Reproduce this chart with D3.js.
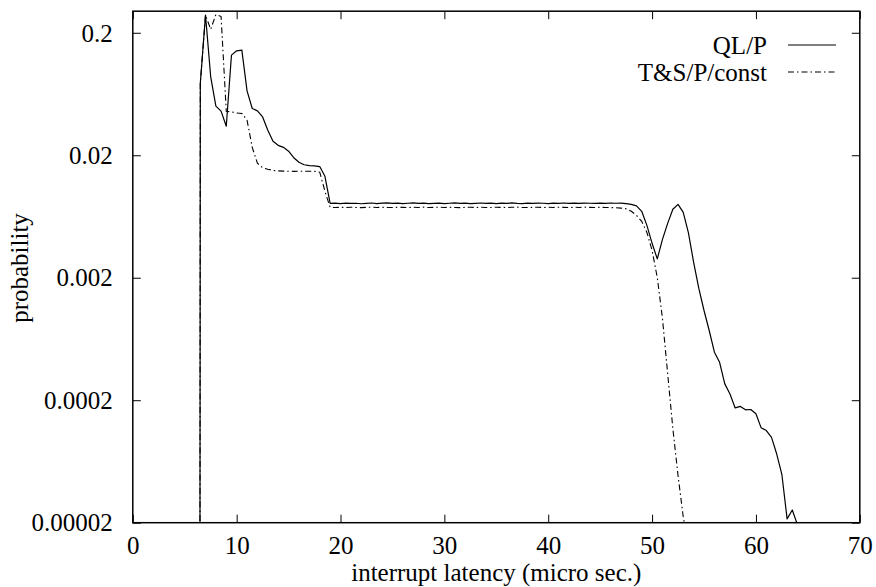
<!DOCTYPE html>
<html>
<head>
<meta charset="utf-8">
<script src="https://cdn.jsdelivr.net/npm/d3@7"></script>
<style>
  html, body { margin: 0; padding: 0; background: #fff; }
  text { font-family: "Liberation Serif", "Times New Roman", serif; fill: #000; }
</style>
</head>
<body>
<svg id="chart" width="876" height="587"></svg>
<script>
// ---- data ----
const seriesNames = ["QL/P", "T&S/P/const"];
const xTicks = [0, 10, 20, 30, 40, 50, 60, 70];
const xTickLabels = ["0", "10", "20", "30", "40", "50", "60", "70"];
const yTicks = [0.2, 0.02, 0.002, 0.0002, 0.00002];
const yTickLabels = ["0.2", "0.02", "0.002", "0.0002", "0.00002"];

// interrupt latency (micro sec.)
const latency = [
  6.45, 6.5, 7, 7.5, 8, 8.5, 9, 9.5, 10, 10.5, 11, 11.5, 12, 12.5, 13, 13.5, 14, 14.5, 15, 15.5,
  16, 16.5, 17, 17.5, 18, 18.5, 19, 19.5, 20, 20.5, 21, 21.5, 22, 22.5, 23, 23.5, 24, 24.5, 25, 25.5,
  26, 26.5, 27, 27.5, 28, 28.5, 29, 29.5, 30, 30.5, 31, 31.5, 32, 32.5, 33, 33.5, 34, 34.5, 35, 35.5,
  36, 36.5, 37, 37.5, 38, 38.5, 39, 39.5, 40, 40.5, 41, 41.5, 42, 42.5, 43, 43.5, 44, 44.5, 45, 45.5,
  46, 46.5, 47, 47.5, 48, 48.5, 49, 49.5, 50, 50.5, 51, 51.5, 52, 52.5, 53, 53.5, 54, 54.5, 55, 55.5,
  56, 56.5, 57, 57.5, 58, 58.5, 59, 59.5, 60, 60.5, 61, 61.5, 62, 62.5, 63, 63.5, 64, 64.5
];

// QL/P probability (aligned with latency)
const qlpProb = [
  1e-7,
  0.0772, 0.279, 0.0874, 0.0503, 0.0458, 0.0345, 0.1314, 0.1425, 0.1444, 0.0671,
  0.0482, 0.0461, 0.0411, 0.0320, 0.0260, 0.0241, 0.0232, 0.0216, 0.0191, 0.01753,
  0.01672, 0.01647, 0.01635, 0.01617, 0.01347, 0.00810,
  0.00812, 0.00806, 0.00814, 0.00808, 0.00811, 0.00804, 0.00809, 0.00815, 0.00807, 0.00812,
  0.00817, 0.00809, 0.00813, 0.00806, 0.00811, 0.00816, 0.00808, 0.00812, 0.00805, 0.00810,
  0.00814, 0.00807, 0.00811, 0.00816, 0.00809, 0.00813, 0.00806, 0.00810, 0.00815, 0.00808,
  0.00812, 0.00807, 0.00813, 0.00809, 0.00816, 0.00810, 0.00806, 0.00812, 0.00808, 0.00814,
  0.00811, 0.00807, 0.00813, 0.00809, 0.00815, 0.00810, 0.00812, 0.00808, 0.00814, 0.00811,
  0.00809, 0.00813, 0.00810, 0.00815, 0.00811, 0.00812, 0.00806,
  0.00795, 0.00773, 0.00697, 0.00535, 0.00382, 0.00285, 0.00411, 0.00556, 0.00724, 0.00795,
  0.00684, 0.00465, 0.00267, 0.001635, 0.00108, 0.000742, 0.000493, 0.000408, 0.000272, 0.000225,
  0.000173, 0.000178, 0.000167, 0.000168, 0.000155, 0.000119, 0.000113, 0.0000995, 0.0000727, 0.0000493,
  0.0000215, 0.0000254, 0.0000192, 1e-7
];

// T&S/P/const probability (aligned with the first entries of latency)
const tspProb = [
  1e-7,
  0.0772, 0.279, 0.2132, 0.2817, 0.2714, 0.0458, 0.0452, 0.0443, 0.0439, 0.0387,
  0.0232, 0.0172, 0.0158, 0.01537, 0.01505, 0.01490, 0.01484, 0.01480, 0.01478, 0.01481,
  0.01479, 0.01482, 0.01478, 0.01455, 0.01015, 0.00751,
  0.00748, 0.00752, 0.00749, 0.00753, 0.00750, 0.00747, 0.00751, 0.00754, 0.00749, 0.00752,
  0.00750, 0.00748, 0.00753, 0.00751, 0.00749, 0.00752, 0.00750, 0.00754, 0.00748, 0.00751,
  0.00753, 0.00749, 0.00752, 0.00750, 0.00747, 0.00751, 0.00753, 0.00749, 0.00752, 0.00750,
  0.00748, 0.00753, 0.00751, 0.00749, 0.00752, 0.00754, 0.00750, 0.00748, 0.00751, 0.00753,
  0.00749, 0.00752, 0.00750, 0.00753, 0.00751, 0.00748, 0.00752, 0.00750, 0.00754, 0.00751,
  0.00749, 0.00752, 0.00750, 0.00748, 0.00745, 0.00740, 0.00732,
  0.00697, 0.00646, 0.00577, 0.00469, 0.00334, 0.00201, 0.000929, 0.000330, 0.0001172, 0.0000484,
  0.0000223, 0.0000129
];

// ---- layout ----
const plot = { left: 132.8, right: 859.8, top: 11.2, bottom: 522.7 };
const FONT = 25;

const svg = d3.select("#chart");
const x = d3.scaleLinear().domain([0, 70]).range([plot.left, plot.right]);
const y = d3.scaleLog().domain([0.00002, 0.3]).range([plot.bottom, plot.top]);

svg.append("defs").append("clipPath").attr("id", "clip")
  .append("rect")
  .attr("x", plot.left).attr("y", plot.top)
  .attr("width", plot.right - plot.left).attr("height", plot.bottom - plot.top);

const tickLen = 8;
// bottom axis
const bottomAxis = d3.axisBottom(x).tickValues(xTicks)
  .tickFormat((d, i) => xTickLabels[i]).tickSizeInner(-tickLen).tickSizeOuter(0).tickPadding(14);
const gb = svg.append("g").attr("transform", `translate(0,${plot.bottom})`).call(bottomAxis);
gb.select(".domain").remove();
gb.selectAll("line").attr("stroke", "#000").attr("stroke-width", 1);
gb.selectAll("text").attr("font-size", FONT).attr("font-family", "Liberation Serif").attr("dy", "0.71em");

const topAxis = d3.axisTop(x).tickValues(xTicks).tickFormat("").tickSizeInner(-tickLen).tickSizeOuter(0);
const gt = svg.append("g").attr("transform", `translate(0,${plot.top})`).call(topAxis);
gt.select(".domain").remove();
gt.selectAll("line").attr("stroke", "#000").attr("stroke-width", 1);

const leftAxis = d3.axisLeft(y).tickValues(yTicks)
  .tickFormat((d, i) => yTickLabels[i]).tickSizeInner(-tickLen).tickSizeOuter(0).tickPadding(20);
const gl = svg.append("g").attr("transform", `translate(${plot.left},0)`).call(leftAxis);
gl.select(".domain").remove();
gl.selectAll("line").attr("stroke", "#000").attr("stroke-width", 1);
gl.selectAll("text").attr("font-size", FONT).attr("font-family", "Liberation Serif").attr("dy", "0.33em");

const rightAxis = d3.axisRight(y).tickValues(yTicks).tickFormat("").tickSizeInner(-tickLen).tickSizeOuter(0);
const gr = svg.append("g").attr("transform", `translate(${plot.right},0)`).call(rightAxis);
gr.select(".domain").remove();
gr.selectAll("line").attr("stroke", "#000").attr("stroke-width", 1);

// lines
const line = d3.line()
  .x(d => x(d[0]))
  .y(d => y(d[1]));

const qlpData = latency.slice(0, qlpProb.length).map((lx, i) => [lx, qlpProb[i]]);
const tspData = latency.slice(0, tspProb.length).map((lx, i) => [lx, tspProb[i]]);

const lines = svg.append("g").attr("clip-path", "url(#clip)");
lines.append("path").datum(qlpData)
  .attr("d", line).attr("fill", "none").attr("stroke", "#000").attr("stroke-width", 1.2)
  .attr("stroke-linejoin", "round");
lines.append("path").datum(tspData)
  .attr("d", line).attr("fill", "none").attr("stroke", "#000").attr("stroke-width", 1.1)
  .attr("stroke-dasharray", "6,3,1.5,3");

// frame
svg.append("rect")
  .attr("x", plot.left).attr("y", plot.top)
  .attr("width", plot.right - plot.left).attr("height", plot.bottom - plot.top)
  .attr("fill", "none").attr("stroke", "#000").attr("stroke-width", 1.5);

// axis titles
svg.append("text")
  .attr("x", (plot.left + plot.right) / 2).attr("y", 581)
  .attr("text-anchor", "middle").attr("font-size", FONT)
  .text("interrupt latency (micro sec.)");
svg.append("text")
  .attr("transform", `translate(28,268) rotate(-90)`)
  .attr("text-anchor", "middle").attr("font-size", FONT)
  .text("probability");

// legend
const legendRows = [
  { name: seriesNames[0], y: 46, dash: null, w: 1.2 },
  { name: seriesNames[1], y: 73, dash: "6,3,1.5,3", w: 1.1 }
];
const lg = svg.append("g");
legendRows.forEach(r => {
  lg.append("text").attr("x", 767).attr("y", r.y).attr("dy", "0.33em")
    .attr("text-anchor", "end").attr("font-size", FONT).text(r.name);
  const l = lg.append("line").attr("x1", 788).attr("x2", 836)
    .attr("y1", r.y - 1).attr("y2", r.y - 1)
    .attr("stroke", "#000").attr("stroke-width", r.w);
  if (r.dash) l.attr("stroke-dasharray", r.dash);
});
</script>
</body>
</html>
